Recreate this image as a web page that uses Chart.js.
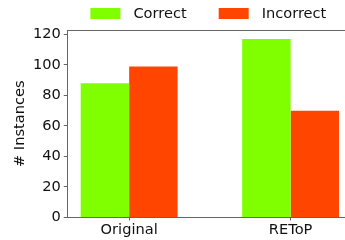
<!DOCTYPE html>
<html>
<head>
<meta charset="utf-8">
<script src="https://cdn.jsdelivr.net/npm/chart.js@4/dist/chart.umd.min.js"></script>
<style>
  html, body { margin: 0; padding: 0; background: #fff; overflow: hidden; }
  #wrap { position: relative; width: 352px; height: 240px; }
</style>
</head>
<body>
<div id="wrap"><canvas id="c"></canvas></div>
<script>
// ---- data ----
const categories = ['Original', 'REToP'];
const seriesNames = ['Correct', 'Incorrect'];
const correctValues = [88, 117];
const incorrectValues = [99, 70];
const yTicks = [0, 20, 40, 60, 80, 100, 120];
const seriesColors = ['#7FFF00', '#FF4500'];

const FONT = '"DejaVu Sans", sans-serif';
const FS = 14.6;
const TEXT = '#111';
const AXIS = '#666';

const toPoints = vals => vals.map((v, i) => ({ x: i, y: v }));

const legendPlugin = {
  id: 'mplLegend',
  afterDraw(chart) {
    const ctx = chart.ctx;
    const area = chart.chartArea;
    ctx.save();
    // top spine
    ctx.strokeStyle = AXIS;
    ctx.lineWidth = 1;
    ctx.beginPath();
    ctx.moveTo(area.left, Math.round(area.top) + 0.5);
    ctx.lineTo(area.right, Math.round(area.top) + 0.5);
    ctx.stroke();
    // legend
    ctx.font = FS + 'px ' + FONT;
    const boxW = 30, boxH = 11, gap = 13, itemGap = 32;
    const items = chart.data.datasets.map(ds => ({ label: ds.label, color: ds.backgroundColor, w: ctx.measureText(ds.label).width }));
    let total = 0;
    items.forEach((it, i) => { total += boxW + gap + it.w + (i < items.length - 1 ? itemGap : 0); });
    let x = (area.left + area.right) / 2 - 1.5 - total / 2;
    const cy = 13.5;
    ctx.textBaseline = 'middle';
    ctx.textAlign = 'left';
    items.forEach(it => {
      ctx.fillStyle = it.color;
      ctx.fillRect(x, cy - boxH / 2, boxW, boxH);
      x += boxW + gap;
      ctx.fillStyle = TEXT;
      ctx.fillText(it.label, x, cy + 0.5);
      x += it.w + itemGap;
    });
    ctx.restore();
  }
};

new Chart(document.getElementById('c'), {
  type: 'bar',
  data: {
    datasets: [
      { label: seriesNames[0], data: toPoints(correctValues), backgroundColor: seriesColors[0], borderWidth: 0 },
      { label: seriesNames[1], data: toPoints(incorrectValues), backgroundColor: seriesColors[1], borderWidth: 0 }
    ]
  },
  options: {
    responsive: true,
    maintainAspectRatio: false,
    animation: false,
    devicePixelRatio: 1,
    categoryPercentage: 0.6,
    barPercentage: 1.0,
    layout: { padding: { left: 11, right: 0, top: 30, bottom: 0 } },
    plugins: { legend: { display: false }, tooltip: { enabled: false } },
    scales: {
      x: {
        type: 'linear',
        offset: false,
        min: -0.38,
        max: 1.38,
        afterBuildTicks: s => { s.ticks = categories.map((c, i) => ({ value: i })); },
        ticks: {
          callback: v => categories[v],
          font: { family: FONT, size: FS },
          color: TEXT,
          padding: 1,
          maxRotation: 0,
          autoSkip: false
        },
        grid: { display: true, offset: false, drawOnChartArea: false, drawTicks: true, tickLength: 3, color: AXIS },
        border: { display: true, color: AXIS, width: 1 }
      },
      y: {
        min: 0,
        max: 122.85,
        afterBuildTicks: s => { s.ticks = yTicks.map(v => ({ value: v })); },
        ticks: {
          font: { family: FONT, size: FS },
          color: TEXT,
          padding: 3
        },
        grid: { display: true, drawOnChartArea: false, drawTicks: true, tickLength: 4, color: AXIS },
        border: { display: true, color: AXIS, width: 1 },
        title: {
          display: true,
          text: '# Instances',
          font: { family: FONT, size: FS },
          color: TEXT,
          padding: { top: 0, bottom: 1.4 }
        }
      }
    }
  },
  plugins: [legendPlugin]
});
</script>
</body>
</html>
